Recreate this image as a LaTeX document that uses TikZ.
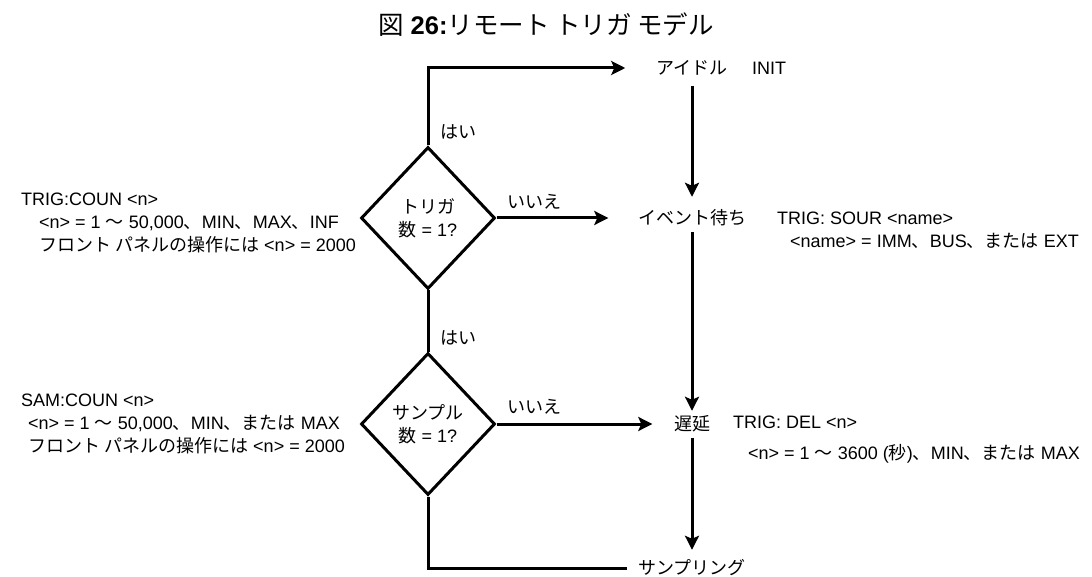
\documentclass[tikz,border=0pt]{standalone}
\usepackage{fontspec}
\setmainfont{Liberation Sans}
\newfontfamily\jpfont{Noto Sans CJK JP}
\usetikzlibrary{shapes.geometric,arrows.meta}
\newcommand\JP[1]{{\jpfont #1}}
\tikzset{
  base/.style={font=\fontsize{18}{23}\selectfont, inner sep=0pt},
  state/.style={base, text height=15pt, text depth=2pt, anchor=center},
  dec/.style={base, diamond, draw, line width=3pt, minimum width=134pt, minimum height=142pt, align=center},
  note/.style={base, anchor=west, align=left},
  lbl/.style={base, anchor=west},
  conn/.style={line width=3pt},
  arr/.style={conn, -{Stealth[length=14pt,width=14pt,inset=3pt]}},
}
\begin{document}
\begin{tikzpicture}[x=1pt,y=-1pt]
\useasboundingbox (0,0) rectangle (1092,577);
% title
\node[base, font=\fontsize{25.5}{30}\selectfont] (title) at (546,25) {\JP{図} \textbf{26:}\JP{リモート トリガ モデル}};
% states
\node[state] (idle) at (692,68) {\JP{アイドル}};
\node[lbl] (init) at (752,68) {INIT};
\node[state] (event) at (692,218) {\JP{イベント待ち}};
\node[state] (delay) at (692,424) {\JP{遅延}};
\node[state] (samp) at (692,568) {\JP{サンプリング}};
% decisions
\node[dec] (trig) at (428,218) {\JP{トリガ}\\\JP{数} = 1?};
\node[dec] (sam) at (428,424) {\JP{サンプル}\\\JP{数} = 1?};
% labels
\node[lbl] (yes1) at (440,132) {\JP{はい}};
\node[lbl] (yes2) at (440,338) {\JP{はい}};
\node[lbl] (no1) at (507,202) {\JP{いいえ}};
\node[lbl] (no2) at (507,407) {\JP{いいえ}};
% notes
\node[note] (ntrig) at (21,223) {TRIG:COUN <n>\\
\hspace*{18pt}<n> = 1 \JP{〜} 50,000\JP{、}MIN\JP{、}MAX\JP{、}INF\\
\hspace*{18pt}\JP{フロント パネルの操作には} <n> = 2000};
\node[note] (nsam) at (21,424) {SAM:COUN <n>\\
\hspace*{7pt}<n> = 1 \JP{〜} 50,000\JP{、}MIN\JP{、または} MAX\\
\hspace*{7pt}\JP{フロント パネルの操作には} <n> = 2000};
\node[note] (nsour) at (777,230) {TRIG: SOUR <name>\\
\hspace*{13pt}<name> = IMM\JP{、}BUS\JP{、または} EXT};
\node[note] (ndel) at (733,440) {TRIG: DEL <n>\\[8pt]
\hspace*{15pt}<n> = 1 \JP{〜} 3600 (\JP{秒})\JP{、}MIN\JP{、または} MAX};
% connectors
\draw[arr, shorten >=31pt] (trig.north) |- (idle.west);
\draw[arr, shorten <=9.5pt, shorten >=12.5pt] (idle.south) -- (event.north);
\draw[arr, shorten >=29.5pt] (trig.east) -- (event.west);
\draw[conn] (trig.south) -- (sam.north);
\draw[arr, shorten <=5.5pt, shorten >=4.5pt] (event.south) -- (delay.north);
\draw[arr, shorten >=21.5pt] (sam.east) -- (delay.west);
\draw[arr, shorten <=5.5pt, shorten >=9.5pt] (delay.south) -- (samp.north);
\draw[conn, shorten >=11.5pt] (sam.south) |- (samp.west);
\end{tikzpicture}
\end{document}
